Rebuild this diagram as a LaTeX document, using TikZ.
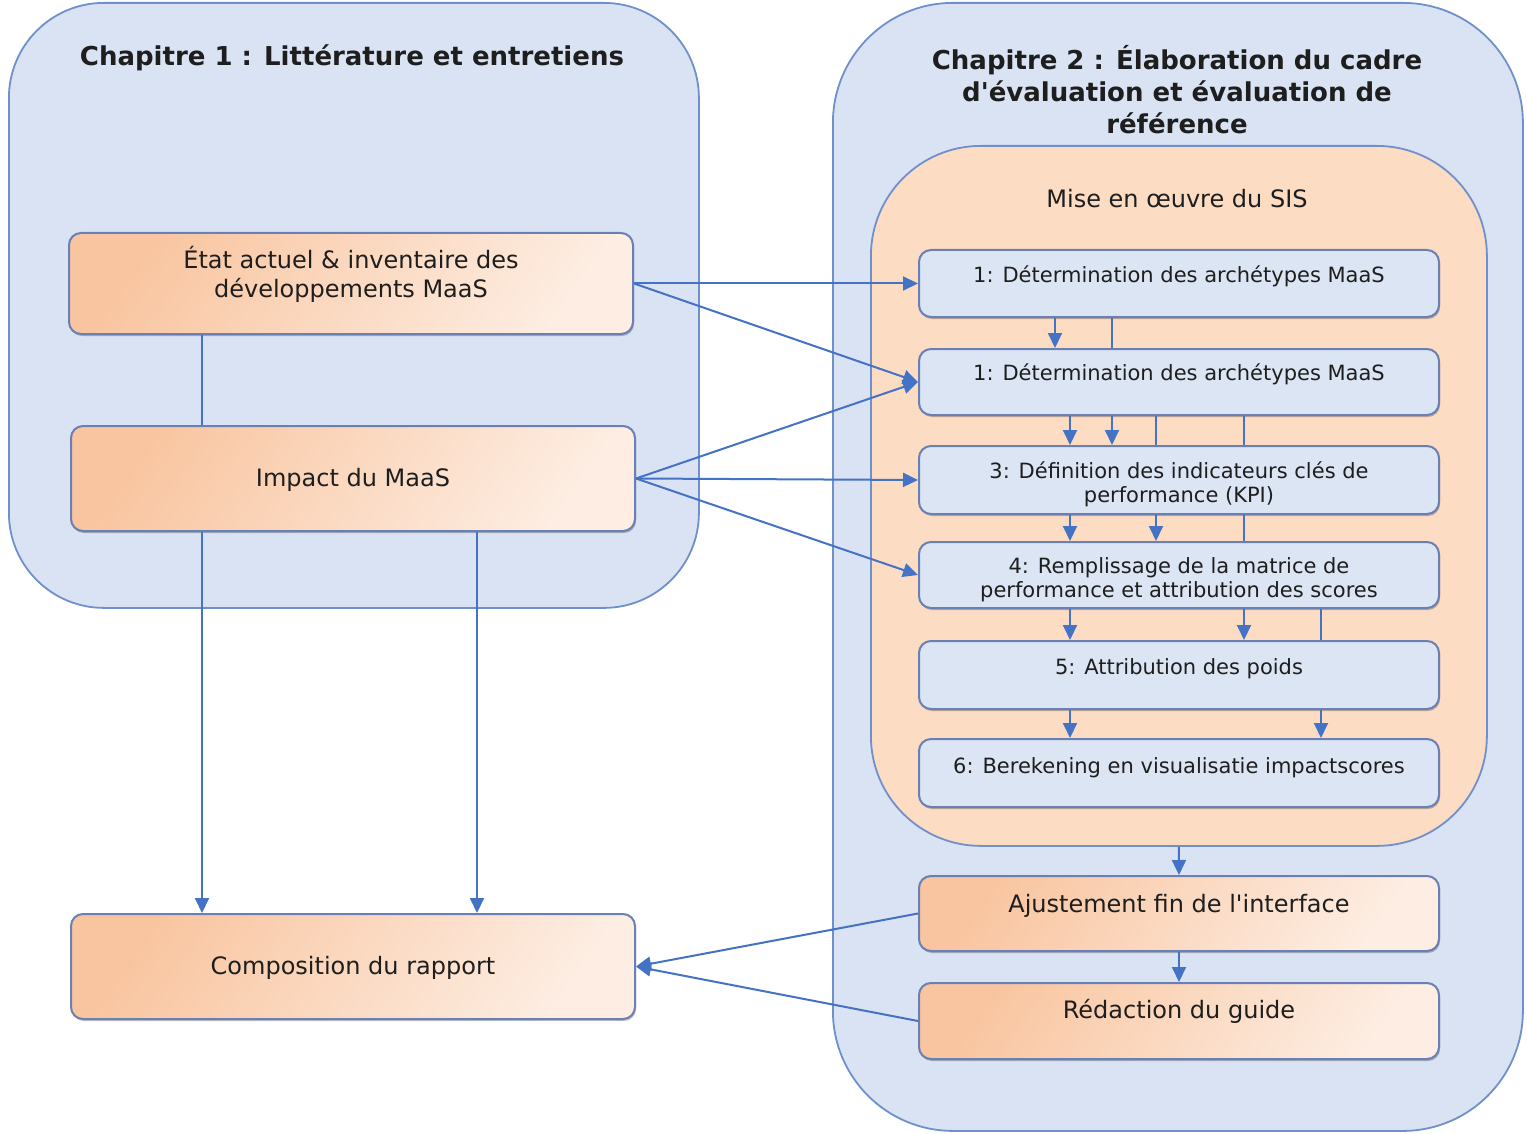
\documentclass[tikz,border=0pt]{standalone}
\usepackage{fontspec}
\setmainfont{DejaVu Sans}[Ligatures=TeXOff]
\usetikzlibrary{arrows.meta,shadows}
\definecolor{contfill}{HTML}{DAE3F3}
\definecolor{contline}{HTML}{7090CC}
\definecolor{sisfill}{HTML}{FDDCC4}
\definecolor{boxfill}{HTML}{DCE5F4}
\definecolor{boxline}{HTML}{6A80B4}
\definecolor{orA}{HTML}{F9C5A0}
\definecolor{orB}{HTML}{FDEDE2}
\definecolor{conn}{HTML}{4472C4}
\definecolor{ink}{HTML}{1E1E1E}
\newcommand{\tl}[1]{\begin{tabular}{@{}c@{}}#1\end{tabular}}
\begin{document}
\begin{tikzpicture}[x=1pt,y=-1pt,
  container/.style={draw=contline, line width=1.8pt, fill=contfill, anchor=north west, inner sep=0pt},
  sisbox/.style={draw=contline, line width=1.8pt, fill=sisfill, anchor=north west, inner sep=0pt, rounded corners=110pt},
  boxshadow/.style={drop shadow={shadow xshift=1pt, shadow yshift=-2pt, opacity=0.25, fill=black}},
  stepbox/.style={draw=boxline, line width=2pt, fill=boxfill, rounded corners=12pt, anchor=north west, inner sep=0pt, minimum width=520pt, text=ink, font=\fontsize{21}{24}\selectfont, boxshadow},
  orbox/.style={draw=boxline, line width=2pt, rounded corners=12pt, top color=orA, bottom color=orB, shading angle=55, anchor=north west, inner sep=0pt, text=ink, font=\fontsize{24}{29}\selectfont, boxshadow},
  link/.style={draw=conn, line width=2pt},
  arr/.style={link, -{Triangle[length=15pt,width=14pt]}},
  title/.style={font=\bfseries\fontsize{26}{32}\selectfont, text=ink, inner sep=0pt},
]
\fill[white] (0,0) rectangle (1527,1134);
\useasboundingbox (0,0) rectangle (1527,1134);

% containers
\node[container, minimum width=690pt, minimum height=605pt, rounded corners=95pt] (ch1) at (8,2) {};
\node[container, minimum width=690pt, minimum height=1128pt, rounded corners=120pt] (ch2) at (832,2) {};
\node[sisbox, minimum width=616pt, minimum height=700pt] (sis) at (870,145) {};

% titles
\node[title] (t1) at (352,58) {Chapitre 1 : Littérature et entretiens};
\node[title] (t2) at (1177,94) {\tl{Chapitre 2 : Élaboration du cadre\\d'évaluation et évaluation de\\référence}};
\node[font=\fontsize{24}{29}\selectfont, text=ink, inner sep=0pt] (sist) at (1177,199) {Mise en œuvre du SIS};

% left boxes
\node[orbox, minimum width=564pt, minimum height=101pt, text height=16.8pt, text depth=18pt] (etat) at (68,232) {\tl{État actuel \& inventaire des\\développements MaaS}};
\node[orbox, minimum width=564pt, minimum height=105pt, text height=16.8pt, text depth=0pt] (impact) at (70,425) {\tl{Impact du MaaS}};
\node[orbox, minimum width=564pt, minimum height=105pt, text height=16.8pt, text depth=0pt] (compo) at (70,913) {\tl{Composition du rapport}};

% right step boxes
\node[stepbox, minimum height=67pt, text height=14.7pt, text depth=16pt] (b1) at (918,249) {\tl{1: Détermination des archétypes MaaS}};
\node[stepbox, minimum height=66pt, text height=14.7pt, text depth=16pt] (b2) at (918,348) {\tl{1: Détermination des archétypes MaaS}};
\node[stepbox, minimum height=68pt, text height=22.7pt, text depth=0pt] (b3) at (918,445) {\tl{3: Définition des indicateurs clés de\\performance (KPI)}};
\node[stepbox, minimum height=66pt, text height=22.7pt, text depth=0pt] (b4) at (918,541) {\tl{4: Remplissage de la matrice de\\performance et attribution des scores}};
\node[stepbox, minimum height=68pt, text height=14.7pt, text depth=14pt] (b5) at (918,640) {\tl{5: Attribution des poids}};
\node[stepbox, minimum height=68pt, text height=14.7pt, text depth=12pt] (b6) at (918,738) {\tl{6: Berekening en visualisatie impactscores}};

\node[orbox, minimum width=520pt, minimum height=75pt, text height=16.8pt, text depth=18pt] (ajust) at (918,875) {\tl{Ajustement fin de l'interface}};
\node[orbox, minimum width=520pt, minimum height=76pt, text height=16.8pt, text depth=20pt] (redac) at (918,982) {\tl{Rédaction du guide}};

% connectors left -> right
\draw[arr] (etat.east) -- (b1.west);
\draw[arr] (etat.east) -- (b2.west);
\draw[arr] (impact.east) -- (b2.west);
\draw[arr] (impact.east) -- (b3.west);
\draw[arr] (impact.east) -- (b4.west);

% left verticals
\coordinate (xa) at (202,0);
\coordinate (xb) at (477,0);
\draw[link] (etat.south -| xa) -- (impact.north -| xa);
\draw[arr] (impact.south -| xa) -- (compo.north -| xa);
\draw[arr] (impact.south -| xb) -- (compo.north -| xb);

% to report
\draw[arr] (ajust.west) -- (compo.east);
\draw[arr] (redac.west) -- (compo.east);
\draw[arr] (sis.south) -- (ajust.north);
\draw[arr] (ajust.south) -- (redac.north);

% inner step connectors
\foreach \x in {1055}{\coordinate (c) at (\x,0); \draw[arr] (b1.south -| c) -- (b2.north -| c);}
\foreach \x in {1112}{\coordinate (c) at (\x,0); \draw[link] (b1.south -| c) -- (b2.north -| c);}
\foreach \x in {1070,1112}{\coordinate (c) at (\x,0); \draw[arr] (b2.south -| c) -- (b3.north -| c);}
\foreach \x in {1156,1244}{\coordinate (c) at (\x,0); \draw[link] (b2.south -| c) -- (b3.north -| c);}
\foreach \x in {1070,1156}{\coordinate (c) at (\x,0); \draw[arr] (b3.south -| c) -- (b4.north -| c);}
\foreach \x in {1244}{\coordinate (c) at (\x,0); \draw[link] (b3.south -| c) -- (b4.north -| c);}
\foreach \x in {1070,1244}{\coordinate (c) at (\x,0); \draw[arr] (b4.south -| c) -- (b5.north -| c);}
\foreach \x in {1321}{\coordinate (c) at (\x,0); \draw[link] (b4.south -| c) -- (b5.north -| c);}
\foreach \x in {1070,1321}{\coordinate (c) at (\x,0); \draw[arr] (b5.south -| c) -- (b6.north -| c);}
\end{tikzpicture}
\end{document}
